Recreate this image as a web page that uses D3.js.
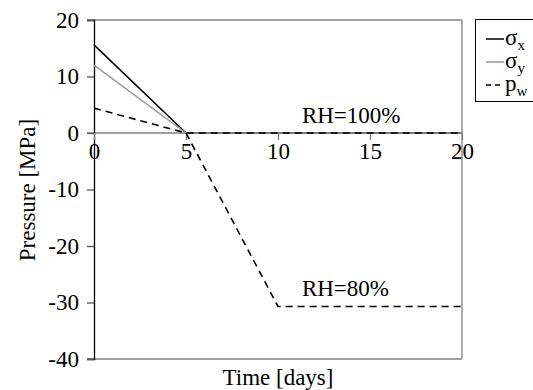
<!DOCTYPE html>
<html><head><meta charset="utf-8">
<script src="https://cdn.jsdelivr.net/npm/d3@7"></script>
<style>body{margin:0;background:#fff}svg{display:block}</style>
</head><body>
<script>
const sigmaX = [[0, 15.6], [5, 0], [20, 0]];
const sigmaY = [[0, 12.0], [5, 0], [20, 0]];
const pw100 = [[0, 4.4], [5, 0], [20, 0]];
const pw80 = [[5, 0], [10, -30.7], [20, -30.7]];
const xTicks = [0, 5, 10, 15, 20];
const yTicks = [20, 10, 0, -10, -20, -30, -40];
const annotations = [{t: "RH=100%", x: 11.3, y: 0}, {t: "RH=80%", x: 11.3, y: -30.7}];

const W = 533, H = 390;
const svg = d3.select("body").append("svg").attr("width", W).attr("height", H);
const x = d3.scaleLinear().domain([0, 20]).range([94, 462]);
const y = d3.scaleLinear().domain([-40, 20]).range([359, 20]);
const fs = 23;
const FF = "'Liberation Serif'";
const styleText = sel => sel.style("font-family", FF).style("font-size", fs + "px").attr("fill", "#000");

const g = svg.append("g");
[[87, x(20), y(20), y(20)], [87, x(20), y(-40), y(-40)], [x(20), x(20), y(20), y(-40)], [87, x(20), y(0), y(0)]]
  .forEach(([x1, x2, y1, y2]) => g.append("line").attr("x1", x1).attr("x2", x2).attr("y1", y1).attr("y2", y2).attr("stroke", "#808080").attr("stroke-width", 1.3));

const yAxis = svg.append("g").attr("transform", `translate(${x(0)},0)`)
  .call(d3.axisLeft(y).tickValues(yTicks).tickSize(7).tickPadding(8).tickFormat(d => String(d)));
yAxis.select(".domain").attr("stroke", "#000").attr("stroke-width", 1.3);
yAxis.selectAll(".tick line").attr("stroke", "#555").attr("stroke-width", 1.3);
yAxis.selectAll("text").call(styleText);

const xAxis = svg.append("g").attr("transform", `translate(0,${y(0)})`)
  .call(d3.axisBottom(x).tickValues(xTicks).tickSize(7).tickPadding(3).tickFormat(d => String(d)));
xAxis.select(".domain").remove();
xAxis.selectAll(".tick line").attr("stroke", "#808080").attr("stroke-width", 1.3);
xAxis.selectAll("text").call(styleText);

const line = d3.line().x(d => x(d[0])).y(d => y(d[1]));
svg.append("path").datum(sigmaX).attr("d", line).attr("fill", "none").attr("stroke", "#000").attr("stroke-width", 1.5);
svg.append("path").datum(sigmaY).attr("d", line).attr("fill", "none").attr("stroke", "#999").attr("stroke-width", 1.5);
svg.append("path").datum(pw100).attr("d", line).attr("fill", "none").attr("stroke", "#000").attr("stroke-width", 1.6).attr("stroke-dasharray", "7,5");
svg.append("path").datum(pw80).attr("d", line).attr("fill", "none").attr("stroke", "#000").attr("stroke-width", 1.6).attr("stroke-dasharray", "7,5");

svg.selectAll(".ann").data(annotations).join("text").attr("class", "ann")
  .attr("x", d => x(d.x)).attr("y", d => y(d.y) - 10).text(d => d.t).call(styleText);

svg.append("text").attr("x", 278).attr("y", 385).attr("text-anchor", "middle").text("Time [days]").call(styleText);
svg.append("text").attr("transform", "translate(35,190) rotate(-90)").attr("text-anchor", "middle").text("Pressure [MPa]").call(styleText);

const legendItems = [
  {main: "σ", sub: "x", color: "#000", dash: null},
  {main: "σ", sub: "y", color: "#999", dash: null},
  {main: "p", sub: "w", color: "#000", dash: "5,4"}
];
const lg = svg.append("g");
lg.append("rect").attr("x", 475.5).attr("y", 19.5).attr("width", 80).attr("height", 82).attr("fill", "#fff").attr("stroke", "#000").attr("stroke-width", 1);
legendItems.forEach((d, i) => {
  const yy = 39 + i * 23;
  lg.append("line").attr("x1", 486).attr("x2", 504).attr("y1", yy).attr("y2", yy)
    .attr("stroke", d.color).attr("stroke-width", 1.5).attr("stroke-dasharray", d.dash);
  const t = lg.append("text").attr("x", 505).attr("y", yy + 6).call(styleText);
  t.append("tspan").text(d.main);
  t.append("tspan").attr("dy", 5).style("font-size", "15px").text(d.sub);
});
</script>
</body></html>
